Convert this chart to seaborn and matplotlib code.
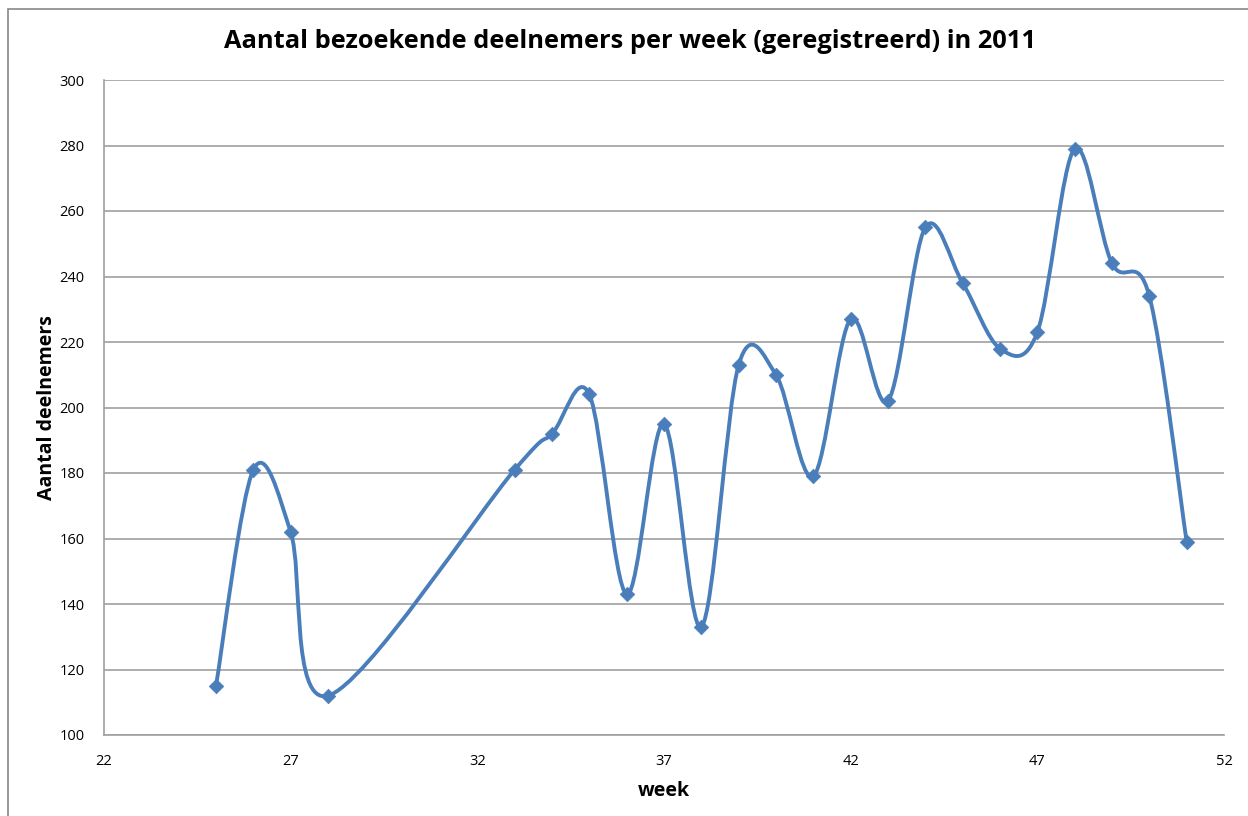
import numpy as np
import pandas as pd
import matplotlib
matplotlib.use("Agg")
import matplotlib.pyplot as plt
from matplotlib.path import Path
from matplotlib.patches import PathPatch, Rectangle
import seaborn as sns

weeks = [25, 26, 27, 28, 33, 34, 35, 36, 37, 38, 39, 40, 41, 42, 43, 44, 45, 46, 47, 48, 49, 50, 51]
deelnemers = [115, 181, 162, 112, 181, 192, 204, 143, 195, 133, 213, 210, 179, 227, 202, 255, 238, 218, 223, 279, 244, 234, 159]
x_ticks = [22, 27, 32, 37, 42, 47, 52]
y_ticks = [100, 120, 140, 160, 180, 200, 220, 240, 260, 280, 300]

title = "Aantal bezoekende deelnemers per week (geregistreerd) in 2011"
xlabel = "week"
ylabel = "Aantal deelnemers"

sns.set_theme(style="white")
plt.rcParams['font.family'] = ['Open Sans', 'DejaVu Sans']
plt.rcParams['text.color'] = 'black'
plt.rcParams['axes.labelcolor'] = 'black'

line_color = "#4A7EBB"
grid_color = "#A0A0A0"

fig = plt.figure(figsize=(12.48, 8.16), dpi=100)
ax = fig.add_axes([104 / 1248, 1 - 735 / 816, (1224 - 104) / 1248, (735 - 80) / 816])

df = pd.DataFrame({"week": weeks, "deelnemers": deelnemers})

# Smoothed line (Excel-style Catmull-Rom Bezier) drawn as a Bezier path in data coords
pts = np.column_stack([df["week"].to_numpy(float), df["deelnemers"].to_numpy(float)])
verts = [tuple(pts[0])]
codes = [Path.MOVETO]
n = len(pts)
for i in range(n - 1):
    p0 = pts[i - 1] if i > 0 else pts[i]
    p1 = pts[i]
    p2 = pts[i + 1]
    p3 = pts[i + 2] if i + 2 < n else pts[i + 1]
    c1 = p1 + (p2 - p0) / 6.0
    c2 = p2 - (p3 - p1) / 6.0
    verts += [tuple(c1), tuple(c2), tuple(p2)]
    codes += [Path.CURVE4] * 3
patch = PathPatch(Path(verts, codes), facecolor="none", edgecolor=line_color, lw=2.8,
                  capstyle="round", joinstyle="round", zorder=3)
ax.add_patch(patch)

sns.scatterplot(data=df, x="week", y="deelnemers", marker="D", s=55, color=line_color,
                edgecolor=line_color, linewidth=0.5, ax=ax, zorder=4, legend=False)

ax.set_xlim(22, 52)
ax.set_ylim(100, 300)
ax.set_xticks(x_ticks)
ax.set_yticks(y_ticks)
ax.set_xticklabels([str(t) for t in x_ticks], fontsize=10.5, color="black")
ax.set_yticklabels([str(t) for t in y_ticks], fontsize=10.5, color="black")
ax.tick_params(axis="x", pad=14, length=0)
ax.tick_params(axis="y", pad=14, length=0)

ax.grid(axis="y", color=grid_color, lw=1.2)
ax.grid(axis="x", visible=False)
ax.set_axisbelow(True)
for side in ["top", "right"]:
    ax.spines[side].set_visible(False)
for side in ["left", "bottom"]:
    ax.spines[side].set_color(grid_color)
    ax.spines[side].set_linewidth(1.2)

ax.set_xlabel(xlabel, fontsize=14, fontweight="bold", labelpad=8, color="black")
ax.set_ylabel(ylabel, fontsize=14, fontweight="bold", labelpad=2, color="black")
fig.text(630 / 1248, 1 - 42 / 816, title, fontsize=18.3, fontweight="bold",
         ha="center", va="center", color="black")

# Outer chart border
fig.patches.append(Rectangle((8 / 1248, -0.1), 1.2, 1 - 9 / 816 + 0.1,
                             transform=fig.transFigure, fill=False,
                             edgecolor="#888888", lw=1.2))

fig.savefig("out.png", dpi=100)
